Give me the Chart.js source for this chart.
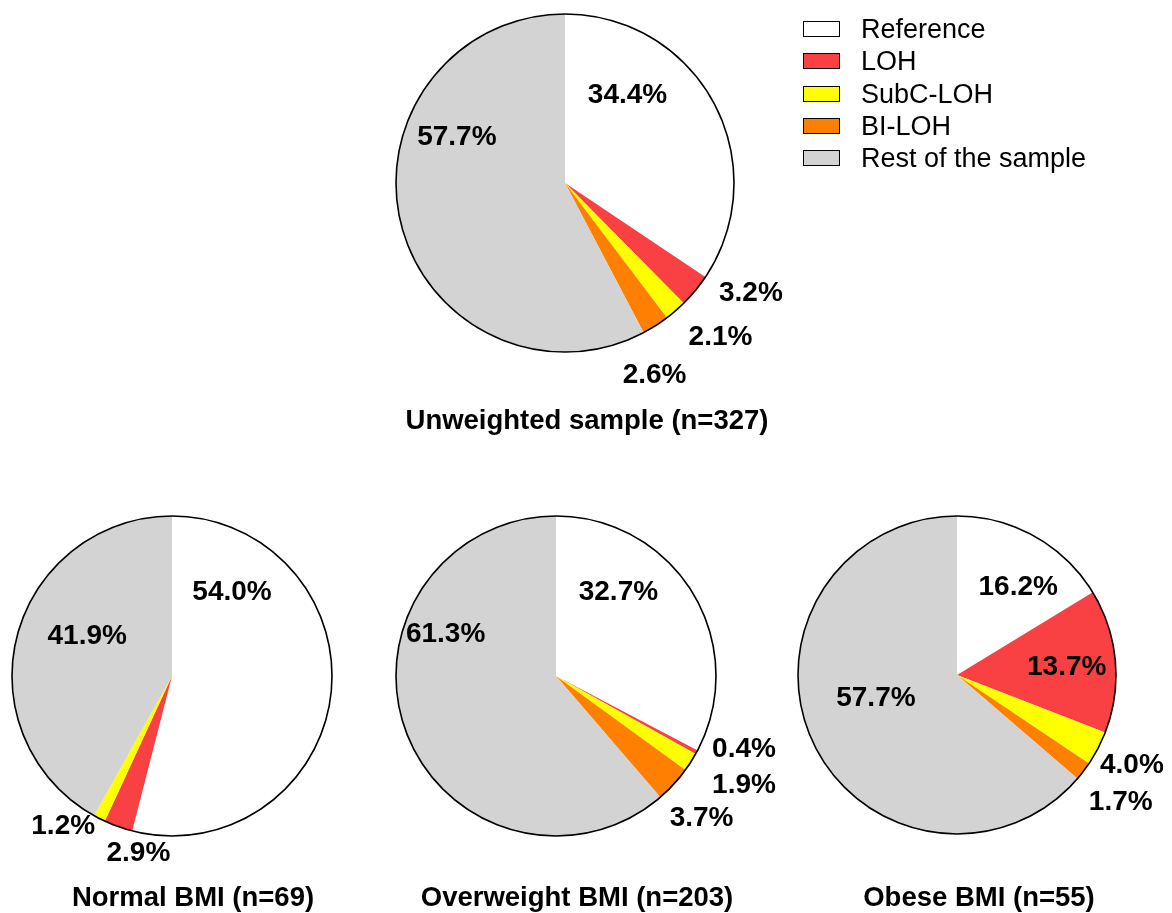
<!DOCTYPE html>
<html>
<head>
<meta charset="utf-8">
<script src="https://cdn.jsdelivr.net/npm/chart.js@4"></script>
<style>
  body { margin: 0; background: #fff; font-family: "Liberation Sans", Arial, sans-serif; }
  #wrap { position: relative; width: 1172px; height: 913px; overflow: hidden; }
  canvas { position: absolute; }
  .title { position: absolute; font-weight: bold; font-size: 27.5px; transform: translate(-50%, -50%); white-space: nowrap; color: #000; }
  .leg { position: absolute; left: 803px; width: 37px; height: 16px; box-sizing: border-box; border: 1.5px solid #000; }
  .legtxt { position: absolute; left: 861px; font-size: 27px; transform: translateY(-50%); white-space: nowrap; color: #000; }
</style>
</head>
<body>
<div id="wrap">
  <canvas id="pieTop" width="560" height="450" style="left:300px;top:0px"></canvas>
  <canvas id="pieNormal" width="390" height="400" style="left:0px;top:500px"></canvas>
  <canvas id="pieOver" width="420" height="400" style="left:380px;top:500px"></canvas>
  <canvas id="pieObese" width="392" height="400" style="left:780px;top:500px"></canvas>
</div>
<script>
// categories, clockwise from 12 o'clock
const categories = ['Reference', 'LOH', 'SubC-LOH', 'BI-LOH', 'Rest of the sample'];
const sliceColors = ['#ffffff', '#f94144', '#ffff00', '#ff8000', '#d3d3d3'];

// slice values (%), as drawn
const unweightedValues = [34.4, 3.2, 2.1, 2.6, 57.7];
const normalValues = [54.0, 2.9, 1.2, 0, 41.9];
const overweightValues = [32.7, 0.4, 1.9, 3.7, 61.3];
const obeseValues = [16.3, 14.6, 3.5, 1.9, 63.7];

// printed labels
const unweightedLabels = ['34.4%', '3.2%', '2.1%', '2.6%', '57.7%'];
const normalLabels = ['54.0%', '2.9%', '1.2%', '', '41.9%'];
const overweightLabels = ['32.7%', '0.4%', '1.9%', '3.7%', '61.3%'];
const obeseLabels = ['16.2%', '13.7%', '4.0%', '1.7%', '57.7%'];

const titles = ['Unweighted sample (n=327)', 'Normal BMI (n=69)', 'Overweight BMI (n=203)', 'Obese BMI (n=55)'];

// label placement, as offsets from the pie centre in units of radius
const unweightedLabelPos = [[0.37, -0.52], [1.10, 0.65], [0.92, 0.91], [0.53, 1.14], [-0.64, -0.27]];
const normalLabelPos = [[0.375, -0.525], [-0.21, 1.11], [-0.68, 0.94], [0, 0], [-0.53, -0.25]];
const overweightLabelPos = [[0.39, -0.525], [1.175, 0.46], [1.175, 0.68], [0.91, 0.89], [-0.69, -0.26]];
const obeseLabelPos = [[0.385, -0.55], [0.69, -0.05], [1.10, 0.57], [1.03, 0.80], [-0.51, 0.145]];

const pieDecor = {
  id: 'pieDecor',
  afterDatasetsDraw(chart, args, opts) {
    const arc = chart.getDatasetMeta(0).data[0];
    const cx = arc.x, cy = arc.y, r = arc.outerRadius;
    const ctx = chart.ctx;
    ctx.save();
    ctx.beginPath();
    ctx.arc(cx, cy, r, 0, Math.PI * 2);
    ctx.lineWidth = 1.6;
    ctx.strokeStyle = '#000';
    ctx.stroke();
    ctx.fillStyle = '#000';
    ctx.font = 'bold 28px "Liberation Sans", Arial, sans-serif';
    ctx.textAlign = 'center';
    ctx.textBaseline = 'middle';
    opts.texts.forEach((t, i) => {
      if (!t) return;
      const p = opts.pos[i];
      ctx.fillText(t, cx + p[0] * r, cy + p[1] * r);
    });
    ctx.restore();
  }
};

function makePie(id, values, texts, pos, pad) {
  return new Chart(document.getElementById(id), {
    type: 'pie',
    data: {
      labels: categories,
      datasets: [{ data: values, backgroundColor: sliceColors, borderWidth: 0 }]
    },
    options: {
      responsive: false,
      animation: false,
      layout: { padding: pad },
      plugins: {
        legend: { display: false },
        tooltip: { enabled: false },
        pieDecor: { texts: texts, pos: pos }
      }
    },
    plugins: [pieDecor]
  });
}

makePie('pieTop', unweightedValues, unweightedLabels, unweightedLabelPos, { left: 96, right: 126, top: 14, bottom: 98 });
makePie('pieNormal', normalValues, normalLabels, normalLabelPos, { left: 12, right: 58, top: 16, bottom: 64 });
makePie('pieOver', overweightValues, overweightLabels, overweightLabelPos, { left: 16, right: 84, top: 16, bottom: 64 });
makePie('pieObese', obeseValues, obeseLabels, obeseLabelPos, { left: 18, right: 56, top: 16, bottom: 66 });

// titles
const wrap = document.getElementById('wrap');
const titlePos = [[587, 420], [193, 897], [577, 897], [979, 897]];
titles.forEach((t, i) => {
  const d = document.createElement('div');
  d.className = 'title';
  d.textContent = t;
  d.style.left = titlePos[i][0] + 'px';
  d.style.top = titlePos[i][1] + 'px';
  wrap.appendChild(d);
});

// legend
const legendRowY = [29, 61, 94, 126, 158];
categories.forEach((name, i) => {
  const box = document.createElement('div');
  box.className = 'leg';
  box.style.top = (legendRowY[i] - 8) + 'px';
  box.style.background = sliceColors[i];
  wrap.appendChild(box);
  const txt = document.createElement('div');
  txt.className = 'legtxt';
  txt.textContent = name;
  txt.style.top = legendRowY[i] + 'px';
  wrap.appendChild(txt);
});
</script>
</body>
</html>
